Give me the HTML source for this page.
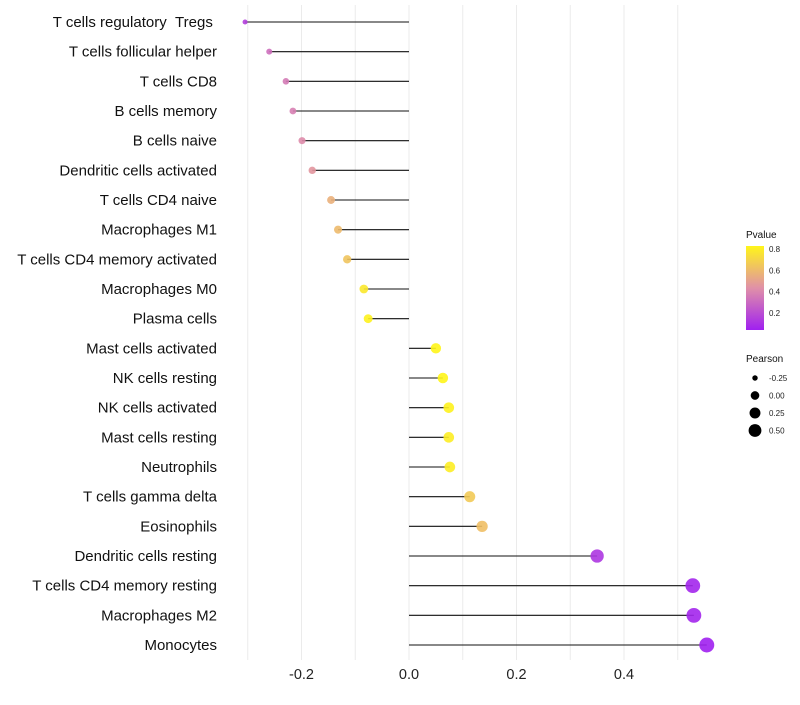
<!DOCTYPE html>
<html><head><meta charset="utf-8"><style>
body{margin:0;background:#fff;}
svg text{font-family:"Liberation Sans",sans-serif;}
</style></head><body>
<svg id="chart" width="800" height="700" xmlns="http://www.w3.org/2000/svg">
<g id="grid"></g><g id="marks"></g><g id="labels"></g><g id="legend"></g>
<defs><linearGradient id="cg" x1="0" y1="1" x2="0" y2="0">
<stop offset="0" stop-color="#A020F0"/><stop offset="0.5" stop-color="#E090A8"/><stop offset="1" stop-color="#FFF51A"/>
</linearGradient></defs>
</svg>
<script>
const categories=["T cells regulatory\u00a0\u00a0Tregs\u00a0","T cells follicular helper","T cells CD8","B cells memory","B cells naive","Dendritic cells activated","T cells CD4 naive","Macrophages M1","T cells CD4 memory activated","Macrophages M0","Plasma cells","Mast cells activated","NK cells resting","NK cells activated","Mast cells resting","Neutrophils","T cells gamma delta","Eosinophils","Dendritic cells resting","T cells CD4 memory resting","Macrophages M2","Monocytes"];
const pearson=[-0.305,-0.26,-0.229,-0.216,-0.199,-0.18,-0.145,-0.132,-0.115,-0.084,-0.076,0.05,0.063,0.074,0.074,0.076,0.113,0.136,0.35,0.528,0.53,0.554];
const pvalues=[0.15,0.32,0.36,0.38,0.42,0.46,0.56,0.6,0.64,0.78,0.82,0.84,0.86,0.82,0.8,0.8,0.66,0.62,0.12,0.06,0.06,0.03];
const xTicks=[-0.2,0,0.2,0.4];
const xTickLabels=["-0.2","0.0","0.2","0.4"];
const pTicks=[0.2,0.4,0.6,0.8];
const sizeLegend=[-0.25,0,0.25,0.5];
const sizeLegendLabels=["-0.25","0.00","0.25","0.50"];
const NS="http://www.w3.org/2000/svg";
const X=v=>409+v*537.5;
const Y=i=>22+i*29.667;
const R=v=>Math.sqrt(Math.max(2.2,9+57.8*(v+0.26)));
const pMin=0.04,pMax=0.83;
function col(p){const t=Math.max(0,Math.min(1,(p-pMin)/(pMax-pMin)));
const s=[[160,32,240],[224,144,168],[255,245,26]];let a,b,u;
if(t<0.5){a=s[0];b=s[1];u=t/0.5}else{a=s[1];b=s[2];u=(t-0.5)/0.5}
return`rgb(${a.map((c,k)=>Math.round(c+(b[k]-c)*u)).join(',')})`;}
function mk(p,tag,at,txt){const e=document.createElementNS(NS,tag);for(const k in at)e.setAttribute(k,at[k]);if(txt!==undefined)e.textContent=txt;p.appendChild(e);return e;}
const grid=document.getElementById('grid'),marks=document.getElementById('marks'),labels=document.getElementById('labels'),leg=document.getElementById('legend');
for(let g=-0.3;g<=0.55;g+=0.1){const l=mk(grid,'line',{x1:X(g),x2:X(g),y1:5,y2:660,stroke:'#ebebeb','stroke-width':1});

}
xTicks.forEach((t,i)=>{const e=mk(labels,'text',{x:X(t),y:679,'font-size':14.5,'text-anchor':'middle',fill:'#222'},xTickLabels[i]);

});
categories.forEach((c,i)=>{
const t=mk(labels,'text',{x:217,y:Y(i)+5,'font-size':15,'text-anchor':'end',fill:'#111'},c);


const s=mk(marks,'line',{x1:X(0),x2:X(pearson[i]),y1:Y(i),y2:Y(i),stroke:'#111','stroke-width':1.1});


const d=mk(marks,'circle',{cx:X(pearson[i]),cy:Y(i),r:R(pearson[i]),fill:col(pvalues[i]),'fill-opacity':0.9});

});
const lt=mk(leg,'text',{x:746,y:238,'font-size':10,fill:'#111'},'Pvalue');


const PY=p=>330-(p-pMin)/(pMax-pMin)*84;
const cb=mk(leg,'rect',{x:746,y:246,width:18,height:84,fill:'url(#cg)'});


pTicks.forEach(p=>{const e=mk(leg,'text',{x:769,y:PY(p)+3,'font-size':8,fill:'#222'},p.toFixed(1));

});
const st=mk(leg,'text',{x:746,y:362,'font-size':10,fill:'#111'},'Pearson');


sizeLegend.forEach((v,i)=>{const cy=378+i*17.5;
const c=mk(leg,'circle',{cx:755,cy:cy,r:R(v)*0.88,fill:'#000'});


const e=mk(leg,'text',{x:769,y:cy+3,'font-size':8,fill:'#222'},sizeLegendLabels[i]);

});
</script>
</body></html>
